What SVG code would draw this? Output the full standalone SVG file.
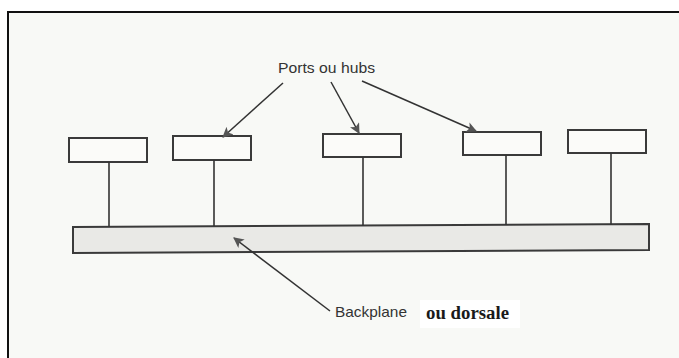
<svg xmlns="http://www.w3.org/2000/svg" width="679" height="358" viewBox="0 0 679 358">
  <style>
    .frame { fill: none; stroke: #111; stroke-width: 2; }
    .port { fill: #fbfbf9; stroke: #3a3a3a; stroke-width: 2; }
    .plane { fill: #e9e9e6; stroke: #3a3a3a; stroke-width: 2; }
    .stem { stroke: #333; stroke-width: 1.6; fill: none; }
    .arrow { stroke: #333; stroke-width: 1.5; fill: none; marker-end: url(#head); }
    .sans { font-family: "Liberation Sans", Arial, sans-serif; font-size: 15px; fill: #333; }
    .serif { font-family: "Liberation Serif", "Times New Roman", serif; font-size: 18.5px; font-weight: bold; fill: #1a1a1a; }
  </style>
  <defs>
    <marker id="head" viewBox="0 0 10 10" refX="9" refY="5" markerWidth="7" markerHeight="7" markerUnits="strokeWidth" orient="auto">
      <path d="M0,0 L10,5 L0,10 L2.5,5 Z" fill="#555"/>
    </marker>
  </defs>
  <rect x="0" y="0" width="679" height="358" fill="#ffffff"/>
  <rect x="8" y="12" width="671" height="346" fill="#f8f9f6"/>
  <rect x="420" y="300" width="100" height="28" fill="#ffffff"/>
  <path class="frame" d="M8,358 L8,12 L679,12"/>

  <g id="backplane">
    <polygon class="plane" points="73,227 649,224 649,250 73,253"/>
  </g>
  <g id="port1"><rect class="port" x="69" y="138" width="78" height="24"/></g>
  <g id="port2"><rect class="port" x="173" y="136" width="78" height="24"/></g>
  <g id="port3"><rect class="port" x="323" y="134" width="78" height="23"/></g>
  <g id="port4"><rect class="port" x="463" y="132" width="78" height="23"/></g>
  <g id="port5"><rect class="port" x="568" y="130" width="78" height="23"/></g>

  <g id="connectors">
    <line class="stem" x1="109" y1="162" x2="109" y2="226.5"/>
    <line class="stem" x1="214" y1="160" x2="214" y2="226"/>
    <line class="stem" x1="363" y1="157" x2="363" y2="225.5"/>
    <line class="stem" x1="506" y1="155" x2="506" y2="225"/>
    <line class="stem" x1="611" y1="153" x2="611" y2="224.5"/>
    <line class="arrow" x1="283" y1="83" x2="223" y2="137"/>
    <line class="arrow" x1="331" y1="82" x2="359" y2="133"/>
    <line class="arrow" x1="362" y1="81" x2="476" y2="131"/>
    <line class="arrow" x1="330" y1="311" x2="234" y2="238"/>
  </g>

  <g id="labels">
    <text class="sans" x="278" y="73" textLength="97" lengthAdjust="spacingAndGlyphs">Ports ou hubs</text>
    <text class="sans" x="335" y="317" textLength="72" lengthAdjust="spacingAndGlyphs">Backplane</text>
    <text class="serif" x="426" y="319" textLength="83" lengthAdjust="spacingAndGlyphs">ou dorsale</text>
  </g>
</svg>
